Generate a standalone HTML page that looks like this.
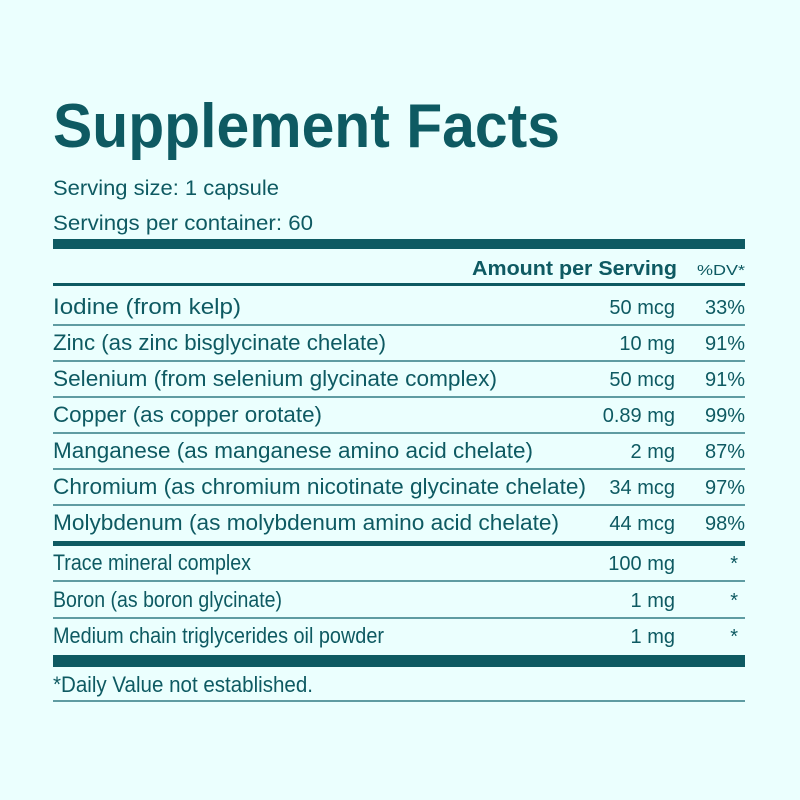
<!DOCTYPE html>
<html><head><meta charset="utf-8"><style>
html,body{margin:0;padding:0;background:#ebfffe;}
svg{display:block}
text{font-family:"Liberation Sans",sans-serif;fill:#0e5a62;}
</style></head><body>
<svg width="800" height="800" viewBox="0 0 800 800">
<rect width="800" height="800" fill="#ebfffe"/>
<text x="53" y="147" font-size="62" font-weight="bold" textLength="507" lengthAdjust="spacingAndGlyphs">Supplement Facts</text>
<text x="53" y="195" font-size="21" textLength="226" lengthAdjust="spacingAndGlyphs">Serving size: 1 capsule</text>
<text x="53" y="230" font-size="21" textLength="260" lengthAdjust="spacingAndGlyphs">Servings per container: 60</text>
<rect x="53" y="239" width="692" height="10" fill="#0e5a62"/>
<text x="472" y="275" font-size="20" font-weight="bold" textLength="205" lengthAdjust="spacingAndGlyphs">Amount per Serving</text>
<text x="697" y="275" font-size="15" textLength="48" lengthAdjust="spacingAndGlyphs">%DV*</text>
<rect x="53" y="283" width="692" height="3" fill="#0e5a62"/>
<g font-size="22">
<text x="53" y="314" textLength="188" lengthAdjust="spacingAndGlyphs">Iodine (from kelp)</text>
<text x="53" y="350" textLength="333" lengthAdjust="spacingAndGlyphs">Zinc (as zinc bisglycinate chelate)</text>
<text x="53" y="386" textLength="444" lengthAdjust="spacingAndGlyphs">Selenium (from selenium glycinate complex)</text>
<text x="53" y="422" textLength="269" lengthAdjust="spacingAndGlyphs">Copper (as copper orotate)</text>
<text x="53" y="458" textLength="480" lengthAdjust="spacingAndGlyphs">Manganese (as manganese amino acid chelate)</text>
<text x="53" y="494" textLength="533" lengthAdjust="spacingAndGlyphs">Chromium (as chromium nicotinate glycinate chelate)</text>
<text x="53" y="530" textLength="506" lengthAdjust="spacingAndGlyphs">Molybdenum (as molybdenum amino acid chelate)</text>
<text x="53" y="570" textLength="198" lengthAdjust="spacingAndGlyphs">Trace mineral complex</text>
<text x="53" y="607" textLength="229" lengthAdjust="spacingAndGlyphs">Boron (as boron glycinate)</text>
<text x="53" y="643" textLength="331" lengthAdjust="spacingAndGlyphs">Medium chain triglycerides oil powder</text>
<text x="53" y="692" textLength="260" lengthAdjust="spacingAndGlyphs">*Daily Value not established.</text>
</g>
<g font-size="20" text-anchor="end">
<text x="675" y="314">50 mcg</text><text x="745" y="314">33%</text>
<text x="675" y="350">10 mg</text><text x="745" y="350">91%</text>
<text x="675" y="386">50 mcg</text><text x="745" y="386">91%</text>
<text x="675" y="422">0.89 mg</text><text x="745" y="422">99%</text>
<text x="675" y="458">2 mg</text><text x="745" y="458">87%</text>
<text x="675" y="494">34 mcg</text><text x="745" y="494">97%</text>
<text x="675" y="530">44 mcg</text><text x="745" y="530">98%</text>
<text x="675" y="570">100 mg</text><text x="738" y="570">*</text>
<text x="675" y="607">1 mg</text><text x="738" y="607">*</text>
<text x="675" y="643">1 mg</text><text x="738" y="643">*</text>
</g>
<g fill="#5f9ca2">
<rect x="53" y="324" width="692" height="2"/>
<rect x="53" y="360" width="692" height="2"/>
<rect x="53" y="396" width="692" height="2"/>
<rect x="53" y="432" width="692" height="2"/>
<rect x="53" y="468" width="692" height="2"/>
<rect x="53" y="504" width="692" height="2"/>
<rect x="53" y="580" width="692" height="2"/>
<rect x="53" y="617" width="692" height="2"/>
<rect x="53" y="700" width="692" height="2"/>
</g>
<rect x="53" y="541" width="692" height="5" fill="#0e5a62"/>
<rect x="53" y="655" width="692" height="12" fill="#0e5a62"/>
</svg>
</body></html>
